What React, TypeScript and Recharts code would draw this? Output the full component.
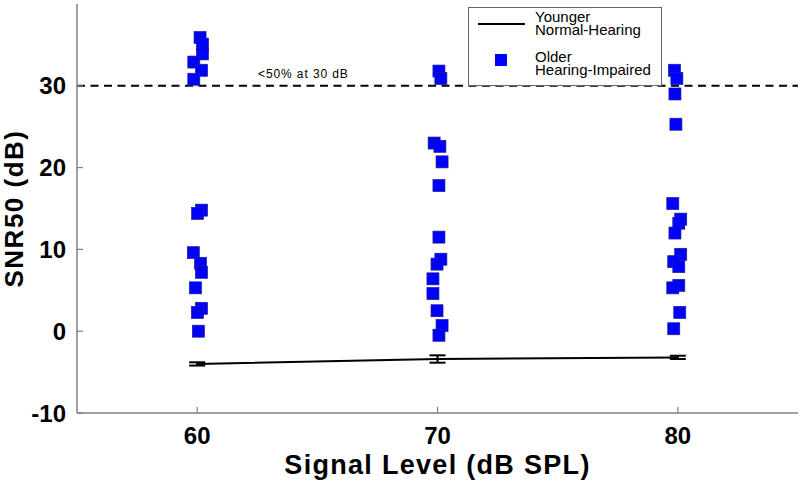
import React from 'react'
import {
  ScatterChart,
  Scatter,
  XAxis,
  YAxis,
  ErrorBar,
  ReferenceLine,
  Legend,
  Label,
} from 'recharts'

const xTicks = [60, 70, 80]
const yTicks = [-10, 0, 10, 20, 30]

// Older hearing-impaired listeners: [signal level (jittered), SNR50]
const olderHI60 = [
  [60.12, 35.9], [60.22, 35.1], [60.22, 33.9], [59.86, 32.9], [60.18, 31.9], [59.86, 30.8],
  [60.18, 14.8], [60.02, 14.4], [59.84, 9.6], [60.14, 8.3], [60.18, 7.2], [59.93, 5.3],
  [60.18, 2.8], [60.01, 2.3], [60.05, 0.0],
]
const olderHI70 = [
  [70.06, 31.8], [70.14, 30.9], [69.86, 23.0], [70.1, 22.6], [70.19, 20.7], [70.06, 17.8],
  [70.06, 11.5], [70.14, 8.8], [69.98, 8.2], [69.81, 6.4], [69.81, 4.6], [69.98, 2.5],
  [70.19, 0.7], [70.06, -0.5],
]
const olderHI80 = [
  [79.86, 31.9], [79.96, 30.9], [79.88, 29.0], [79.92, 25.3], [79.79, 15.6], [80.12, 13.7],
  [80.04, 13.2], [79.88, 12.0], [80.12, 9.4], [79.83, 8.5], [80.04, 7.9], [80.04, 5.6],
  [79.79, 5.3], [80.08, 2.3], [79.83, 0.3],
]

// Younger normal-hearing: mean SNR50 and error
const levels = [60, 70, 80]
const youngerMean = [-4.0, -3.4, -3.2]
const youngerErr = [0.2, 0.45, 0.2]

const olderData = [...olderHI60, ...olderHI70, ...olderHI80].map(([x, y]) => ({ x, y }))
const youngerData = levels.map((x, i) => ({ x, y: youngerMean[i], err: youngerErr[i] }))

const FONT = '"Liberation Sans", Arial, sans-serif'
const AXIS_GREY = '#808080'
const TICK_LEN = 6

const BlueSquare = (props: any) => {
  const { cx, cy } = props
  if (cx == null || cy == null) return <g />
  return <rect x={cx - 6} y={cy - 6} width={12} height={12} fill="#0000ff" stroke="#1c1c9a" strokeWidth={0.7} />
}

const NoMark = () => <g />

// ticks point into the plot, labels sit outside
const BottomTick = (props: any) => {
  const { x, y, payload } = props
  return (
    <g>
      <line x1={x} x2={x} y1={y} y2={y - TICK_LEN} stroke={AXIS_GREY} strokeWidth={1.2} />
      <text x={x} y={y + 31} textAnchor="middle" fontFamily={FONT} fontSize={24} fontWeight={700} fill="#000">
        {payload.value}
      </text>
    </g>
  )
}
const LeftTick = (props: any) => {
  const { x, y, payload } = props
  return (
    <g>
      <line x1={x} x2={x + TICK_LEN} y1={y} y2={y} stroke={AXIS_GREY} strokeWidth={1.2} />
      <text x={x - 11} y={y + 8.5} textAnchor="end" fontFamily={FONT} fontSize={24} fontWeight={700} fill="#000">
        {payload.value}
      </text>
    </g>
  )
}
const TopTick = (props: any) => (
  <line x1={props.x} x2={props.x} y1={props.y} y2={props.y + TICK_LEN} stroke={AXIS_GREY} strokeWidth={1.2} />
)
const RightTick = (props: any) => (
  <line x1={props.x} x2={props.x - TICK_LEN} y1={props.y} y2={props.y} stroke={AXIS_GREY} strokeWidth={1.2} />
)

const LegendBox = () => (
  <svg width={194} height={80} style={{ display: 'block' }}>
    <rect x={0.5} y={0.5} width={193} height={78} fill="#fff" stroke="#666" strokeWidth={1} />
    <line x1={10} x2={57} y1={17} y2={17} stroke="#000" strokeWidth={2} />
    <rect x={27} y={47} width={12} height={12} fill="#0000ff" />
    <g fontFamily={FONT} fontSize={15} fill="#000">
      <text x={67} y={15}>Younger</text>
      <text x={67} y={28}>Normal-Hearing</text>
      <text x={67} y={55}>Older</text>
      <text x={67} y={68}>Hearing-Impaired</text>
    </g>
  </svg>
)

const ThresholdLabel = (props: any) => {
  const { viewBox } = props
  if (!viewBox) return null
  return (
    <text x={viewBox.x + 181} y={viewBox.y - 8} fontFamily={FONT} fontSize={12} letterSpacing={0.9} fill="#000">
      {'<50% at 30 dB'}
    </text>
  )
}

export default function App() {
  return (
    <div style={{ position: 'absolute', left: 0, top: 0, background: '#fff' }}>
      <ScatterChart width={800} height={489} margin={{ top: 4, right: 2, bottom: 36, left: 17 }}>
        <XAxis
          type="number"
          dataKey="x"
          domain={[55, 85]}
          ticks={xTicks}
          allowDataOverflow
          height={40}
          stroke={AXIS_GREY}
          strokeWidth={1.5}
          tickLine={false}
          tickSize={0}
          tickMargin={0}
          tick={<BottomTick />}
        >
          <Label
            content={(p: any) => {
              const vb = p.viewBox
              return (
                <text
                  x={vb.x + vb.width / 2}
                  y={474}
                  textAnchor="middle"
                  fontFamily={FONT}
                  fontSize={27}
                  fontWeight={700}
                  letterSpacing={1.3}
                  fill="#000"
                >
                  Signal Level (dB SPL)
                </text>
              )
            }}
          />
        </XAxis>
        <XAxis
          xAxisId="top"
          orientation="top"
          type="number"
          dataKey="x"
          domain={[55, 85]}
          ticks={xTicks}
          allowDataOverflow
          height={0}
          stroke={AXIS_GREY}
          strokeWidth={1.5}
          tickLine={false}
          tickSize={0}
          tickMargin={0}
          tick={<TopTick />}
        />
        <YAxis
          type="number"
          dataKey="y"
          domain={[-10, 40]}
          ticks={yTicks}
          allowDataOverflow
          width={60}
          stroke={AXIS_GREY}
          strokeWidth={1.5}
          tickLine={false}
          tickSize={0}
          tickMargin={0}
          tick={<LeftTick />}
        >
          <Label
            content={() => {
              const cy = 4 + 409 / 2
              return (
                <text
                  x={23}
                  y={cy}
                  transform={`rotate(-90 23 ${cy})`}
                  textAnchor="middle"
                  fontFamily={FONT}
                  fontSize={26}
                  fontWeight={700}
                  letterSpacing={1.5}
                  fill="#000"
                >
                  SNR50 (dB)
                </text>
              )
            }}
          />
        </YAxis>
        <YAxis
          yAxisId="right"
          orientation="right"
          type="number"
          domain={[-10, 40]}
          ticks={yTicks}
          allowDataOverflow
          width={0}
          stroke={AXIS_GREY}
          strokeWidth={1.5}
          tickLine={false}
          tickSize={0}
          tickMargin={0}
          tick={<RightTick />}
        />
        <ReferenceLine
          y={30}
          stroke="#000"
          strokeWidth={2}
          strokeDasharray="8 5.5"
          label={<ThresholdLabel />}
        />
        <Scatter
          name="Younger Normal-Hearing"
          data={youngerData}
          line={{ stroke: '#000', strokeWidth: 2 }}
          shape={<NoMark />}
          isAnimationActive={false}
        >
          <ErrorBar dataKey="err" direction="y" width={8} stroke="#000" strokeWidth={2} />
        </Scatter>
        <Scatter
          name="Older Hearing-Impaired"
          data={olderData}
          shape={<BlueSquare />}
          isAnimationActive={false}
        />
        <Legend
          layout="horizontal"
          verticalAlign="middle"
          align="center"
          content={<LegendBox />}
          wrapperStyle={{ position: 'absolute', left: 468, top: 7, width: 194, height: 80 }}
        />
      </ScatterChart>
    </div>
  )
}
